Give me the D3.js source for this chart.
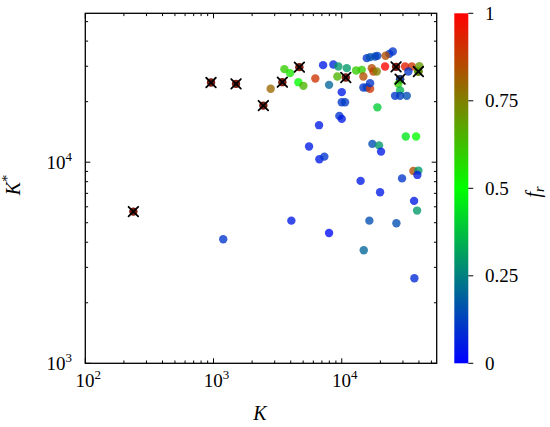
<!DOCTYPE html>
<html><head><meta charset="utf-8">
<script src="https://cdn.jsdelivr.net/npm/d3@7"></script>
<style>body{margin:0;background:#fff}svg text{font-family:"Liberation Serif","DejaVu Serif",serif;}</style>
</head><body>
<svg id="c" width="550" height="427"></svg>
<script>
// main series
const K =     [1190,2790,3570,3950,4590,5020,6220,7150,8600,9410,10940,9240,7960,10000,10000,10610,9575,10000,6650,12930,14320,14740,15670,14740,15670,16630,16630,18190,18960,23500,25000,17140,17640,18750,16630,21760,31170,35160,33070,40280,39590,28500,27640,28500,26040,28500,32140,18960,31560,37990,5560,6690,7315,17330,19540,20250,36180,39590,38880,14020,29520,19900,36640,38670,4045,16420,26670,7960,14840,36840,21960];
const Kstar = [4140,23200,29020,27720,25000,23970,26060,30380,30590,29890,29350,26660,24240,22300,19880,19880,16990,16420,15280,28560,28790,26660,32910,23500,23500,23160,33290,33520,33790,34570,35500,29350,28230,28230,24720,29890,29890,29890,28230,30030,28230,25870,24520,22760,21380,21380,21380,18740,13410,13410,11960,10350,10660,12330,12120,11290,9050,9083,8645,8072,8307,7093,6420,5746,5122,5122,4971,4449,3650,2648,33800];
const fr =    [0.1,0.8,0.6,0.55,0.5,0.65,0.9,0.05,0.08,0.3,0.3,0.65,0.2,0.05,0.1,0.12,0.1,0.05,0.05,0.6,0.6,0.85,0.1,0.1,0.12,0.9,0.15,0.15,0.12,0.1,0.1,0.85,0.88,0.75,0.1,1.0,0.95,0.9,0.1,0.7,0.65,0.15,0.6,0.35,0.1,0.12,0.15,0.4,0.45,0.5,0.05,0.05,0.1,0.15,0.3,0.05,0.85,0.3,0.05,0.05,0.1,0.05,0.05,0.3,0.05,0.15,0.15,0.02,0.2,0.08,0.85];
// reference series (X markers)
const refK =     [237,956,1498,2446,3441,4670,10750,26520,28500,39590];
const refKstar = [5679,24890,24520,19120,25000,29690,26360,29790,25870,28230];
// ticks
const xMajor = [100,1000,10000];
const yMajor = [1000,10000];
const cTicks = [0,0.25,0.5,0.75,1];
const cLabels = ["0","0.25","0.5","0.75","1"];

const svg = d3.select("#c");
const L=85.3,R=436.7,T=13.3,B=363.3;
const x = d3.scaleLog().domain([100,55000]).range([L,R]);
const y = d3.scaleLog().domain([1000,55000]).range([B,T]);
function cmap(t){
  let r,g,b;
  if(t<0.5){r=0;g=510*t;b=255*(1-2*t);}else{r=510*(t-0.5);g=255*(1-2*(t-0.5));b=0;}
  return d3.rgb(r,g,b).toString();
}
function minors(dom){const out=[];for(let e=2;e<=5;e++){for(let m=1;m<10;m++){const v=m*Math.pow(10,e);if(v>=dom[0]&&v<=dom[1]&&m!==1)out.push(v);}}return out;}
const xMinor=minors([100,55000]), yMinor=minors([1000,55000]);

const ax=svg.append("g").attr("stroke","#000").attr("stroke-width",1);
xMajor.forEach(v=>{ax.append("line").attr("x1",x(v)).attr("x2",x(v)).attr("y1",B).attr("y2",B-5);ax.append("line").attr("x1",x(v)).attr("x2",x(v)).attr("y1",T).attr("y2",T+5);});
xMinor.forEach(v=>{ax.append("line").attr("x1",x(v)).attr("x2",x(v)).attr("y1",B).attr("y2",B-2.8);ax.append("line").attr("x1",x(v)).attr("x2",x(v)).attr("y1",T).attr("y2",T+2.8);});
yMajor.forEach(v=>{ax.append("line").attr("y1",y(v)).attr("y2",y(v)).attr("x1",L).attr("x2",L+5);ax.append("line").attr("y1",y(v)).attr("y2",y(v)).attr("x1",R).attr("x2",R-5);});
yMinor.forEach(v=>{ax.append("line").attr("y1",y(v)).attr("y2",y(v)).attr("x1",L).attr("x2",L+2.8);ax.append("line").attr("y1",y(v)).attr("y2",y(v)).attr("x1",R).attr("x2",R-2.8);});

// points
const idx=d3.range(K.length);
svg.append("g").selectAll("circle.r").data(d3.range(refK.length)).join("circle")
  .attr("cx",i=>x(refK[i])).attr("cy",i=>y(refKstar[i])).attr("r",4.2).attr("fill","#7a1c10");
svg.append("g").selectAll("circle.m").data(idx).join("circle")
  .attr("cx",i=>x(K[i])).attr("cy",i=>y(Kstar[i])).attr("r",4.2)
  .attr("fill",i=>cmap(fr[i])).attr("fill-opacity",0.78);
const xg=svg.append("g").attr("stroke","#000").attr("stroke-width",1.8).attr("stroke-linecap","round");
d3.range(refK.length).forEach(i=>{const cx=x(refK[i]),cy=y(refKstar[i]),s=4.8;
  xg.append("line").attr("x1",cx-s).attr("y1",cy-s).attr("x2",cx+s).attr("y2",cy+s);
  xg.append("line").attr("x1",cx-s).attr("y1",cy+s).attr("x2",cx+s).attr("y2",cy-s);});

// frame
svg.append("rect").attr("x",L).attr("y",T).attr("width",R-L).attr("height",B-T).attr("fill","none").attr("stroke","#000").attr("stroke-width",1.3);

// tick labels
function pow10(g,v,px,py,anchor){
  const t=g.append("text").attr("x",px).attr("y",py).attr("text-anchor",anchor).attr("font-size",19);
  t.append("tspan").text("10");
  t.append("tspan").attr("dy",-8).attr("font-size",13).text(String(Math.round(Math.log10(v))));
}
const tl=svg.append("g");
xMajor.forEach(v=>pow10(tl,v,x(v)+3,387,"middle"));
yMajor.forEach(v=>pow10(tl,v,72,y(v)+7,"end"));

// axis labels
svg.append("text").attr("x",260).attr("y",420).attr("text-anchor","middle").attr("font-size",20).attr("font-style","italic").text("K");
const yl=svg.append("text").attr("transform","translate(20,185) rotate(-90)").attr("text-anchor","middle").attr("font-size",20);
yl.append("tspan").attr("font-style","italic").text("K");
yl.append("tspan").attr("dy",-8).attr("font-size",14).text("*");

// colorbar
const cx0=454.3,cx1=468.3;
const cy=d3.scaleLinear().domain([0,1]).range([B,T]);
const grad=svg.append("defs").append("linearGradient").attr("id","g").attr("x1",0).attr("y1",1).attr("x2",0).attr("y2",0);
d3.range(0,1.0001,0.05).forEach(t=>grad.append("stop").attr("offset",t).attr("stop-color",cmap(t)));
svg.append("rect").attr("x",cx0).attr("y",T).attr("width",cx1-cx0).attr("height",B-T).attr("fill","url(#g)");
cTicks.forEach((v,i)=>{
  svg.append("line").attr("x1",cx1).attr("x2",cx1+5).attr("y1",cy(v)).attr("y2",cy(v)).attr("stroke","#000").attr("stroke-width",1);
  svg.append("text").attr("x",485).attr("y",cy(v)+6.5).attr("font-size",19).text(cLabels[i]);
});
const fl=svg.append("text").attr("transform","translate(540,192) rotate(-90)").attr("text-anchor","middle").attr("font-size",20);
fl.append("tspan").attr("font-style","italic").text("f");
fl.append("tspan").attr("font-style","italic").attr("font-size",14).attr("dy",4).text("r");
</script>
</body></html>
